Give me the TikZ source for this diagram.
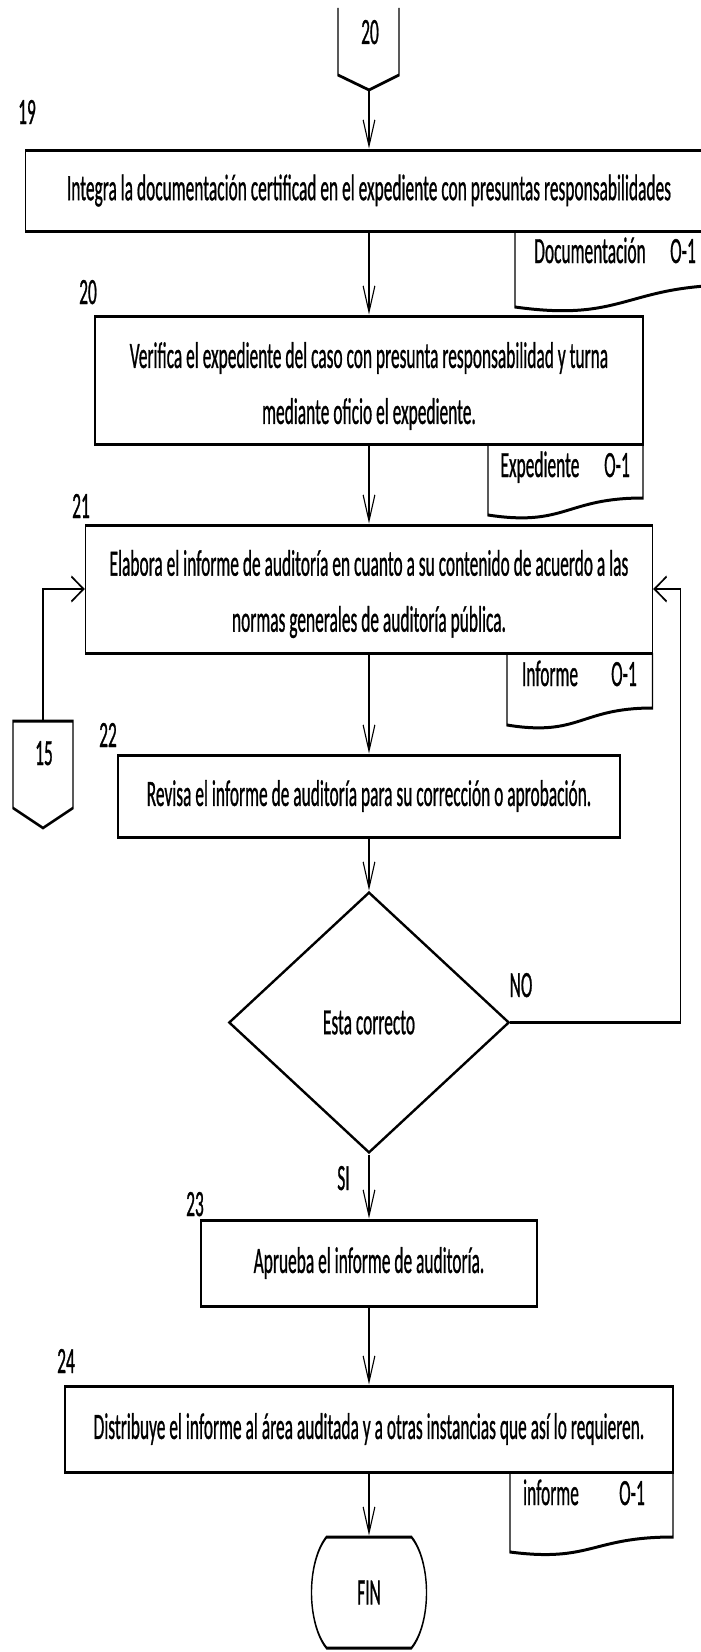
\documentclass[tikz,border=0pt]{standalone}
\usepackage{fontspec}
\setmainfont{Carlito}[FakeBold=1.2]
\usetikzlibrary{arrows.meta,shapes.geometric,shapes.misc}

% horizontal condensing of the whole chart
\newcommand{\sx}{0.47}

\tikzset{
  txt/.style={font=\fontsize{37bp}{56bp}\selectfont},
  box/.style={txt, draw, line width=3bp, rectangle, inner sep=0pt, align=center},
  lbl/.style={txt, inner sep=0pt, text height=24bp, text depth=0pt},
  flow/.style={line width=2.2bp, -{Straight Barb[length=26bp,width=25bp]}},
  outline/.style={line width=3bp},
}

% document symbol below a box: left, right, top, bottom-left, bottom-right
\newcommand{\docshape}[5]{%
  \draw[outline] (#1,#3) -- (#1,#4)
    .. controls ({(#1+#2)/2},{#4+0.7*(#4-#5)}) and ({(#1+#2)/2},#5) .. (#2,#5)
    -- (#2,#3);}

\begin{document}
\begin{tikzpicture}[x=1bp,y=-1bp]
\useasboundingbox (0,0) rectangle (701,1652);
\begin{scope}[transform canvas={xscale=\sx}, x=2.12766bp]

  % off-page connector 20
  \draw[outline] (338,8) -- (338,75) -- (369,90) -- (399,75) -- (399,8);
  \node[lbl] (c20) at (370,32) {20};
  \coordinate (c20tip) at (369,90);

  % step numbers
  \node[lbl] (n19) at (27,112) {19};
  \node[lbl] (n20) at (88,292) {20};
  \node[lbl] (n21) at (81,506) {21};
  \node[lbl] (n22) at (108,735) {22};
  \node[lbl] (n23) at (195,1204) {23};
  \node[lbl] (n24) at (66,1361) {24};

  % process boxes
  \node[box, minimum width={687bp/\sx}, minimum height=81bp] (b19) at (369,190.5)
    {Integra la documentación certificad en el expediente con presuntas responsabilidades};
  \node[box, minimum width={548bp/\sx}, minimum height=128bp] (b20) at (369,380) {};
  \node[txt, align=center, inner sep=0pt] (t20) at (369,386)
    {Verifica el expediente del caso con presunta responsabilidad y turna\\mediante oficio el expediente.};
  \node[box, minimum width={567bp/\sx}, minimum height=128bp] (b21) at (369,589) {};
  \node[txt, align=center, inner sep=0pt] (t21) at (369,594)
    {Elabora el informe de auditoría en cuanto a su contenido de acuerdo a las\\normas generales de auditoría pública.};
  \node[box, minimum width={502bp/\sx}, minimum height=82bp] (b22) at (369,796)
    {Revisa el informe de auditoría para su corrección o aprobación.};
  \node[txt, draw, diamond, line width=3bp, inner sep=0pt,
        minimum width={280bp/\sx}, minimum height=261bp] (dia) at (369,1022.5) {Esta correcto};
  \node[box, minimum width={336bp/\sx}, minimum height=86bp] (b23) at (369,1263)
    {Aprueba el informe de auditoría.};
  \node[box, minimum width={608bp/\sx}, minimum height=86bp] (b24) at (369,1429)
    {Distribuye el informe al área auditada y a otras instancias que así lo requieren.};
  \node[txt, draw, rounded rectangle, rounded rectangle arc length=120, line width=3bp,
        inner sep=0pt, minimum width={115bp/\sx}, minimum height=111bp] (fin) at (369,1592.5) {FIN};

  % documents
  \docshape{515}{735}{231}{307}{285}
  \node[lbl] (d1a) at (590,251) {Documentación};
  \node[lbl] (d1b) at (683,251) {O-1};
  \docshape{488}{643}{444}{515}{498}
  \node[lbl] (d2a) at (540,465) {Expediente};
  \node[lbl] (d2b) at (617,465) {O-1};
  \docshape{507}{652.5}{653}{725}{708}
  \node[lbl] (d3a) at (550,674) {Informe};
  \node[lbl] (d3b) at (624,674) {O-1};
  \docshape{510}{673}{1472}{1552}{1537}
  \node[lbl] (d4a) at (551,1493) {informe};
  \node[lbl] (d4b) at (632,1493) {O-1};

  % off-page connector 15
  \draw[outline] (13,721) -- (73,721) -- (73,808) -- (43,828) -- (13,808) -- cycle;
  \node[lbl] (c15) at (44,753) {15};
  \coordinate (c15top) at (43,721);

  % decision labels
  \node[lbl] (no) at (521,985) {NO};
  \node[lbl] (si) at (343.5,1178) {SI};

  % flow
  \draw[flow] (c20tip) -- (b19.north);
  \draw[flow] (b19.south) -- (b20.north);
  \draw[flow] (b20.south) -- (b21.north);
  \draw[flow] (b21.south) -- (b22.north);
  \draw[flow] (b22.south) -- (dia.north);
  \draw[flow] (dia.south) -- (b23.north);
  \draw[flow] (b23.south) -- (b24.north);
  \draw[flow] (b24.south) -- (fin.north);
  \draw[flow] (dia.east) -- ++(171,0) |- (b21.east);
  \draw[flow] (c15top) |- (b21.west);
\end{scope}
\end{tikzpicture}
\end{document}
